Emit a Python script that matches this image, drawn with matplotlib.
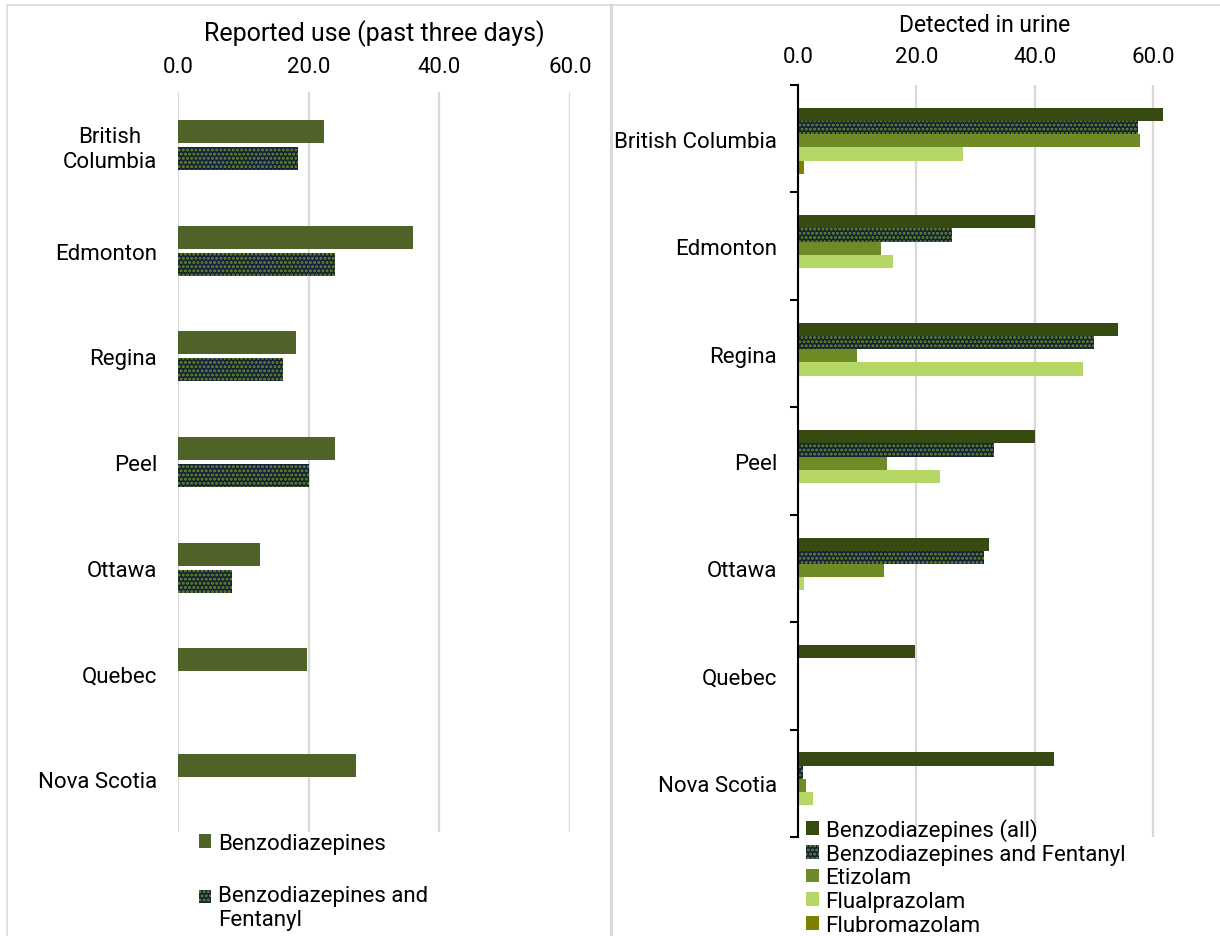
import numpy as np
import matplotlib.pyplot as plt
from matplotlib.patches import Rectangle

plt.rcParams['font.family'] = ['Roboto', 'DejaVu Sans']
plt.rcParams['font.size'] = 16
plt.rcParams['hatch.linewidth'] = 1.4

regions = ["British Columbia", "Edmonton", "Regina", "Peel", "Ottawa", "Quebec", "Nova Scotia"]
left_labels = ["British\nColumbia", "Edmonton", "Regina", "Peel", "Ottawa", "Quebec", "Nova Scotia"]

# reported use, past three days (%)
reported_benzo = [22.3, 35.9, 18.0, 24.0, 12.5, 19.7, 27.3]
reported_benzo_fent = [18.3, 24.1, 16.1, 20.1, 8.3, np.nan, np.nan]

# detected in urine (%)
urine_series = ["Benzodiazepines (all)", "Benzodiazepines and Fentanyl", "Etizolam",
                "Flualprazolam", "Flubromazolam"]
urine_all = [61.7, 40.0, 54.0, 40.0, 32.3, 19.8, 43.3]
urine_benzo_fent = [57.5, 26.0, 50.0, 33.1, 31.4, np.nan, 0.9]
urine_etizolam = [57.8, 14.0, 10.0, 15.0, 14.6, np.nan, 1.3]
urine_flualprazolam = [27.9, 16.0, 48.1, 24.0, 1.0, np.nan, 2.5]
urine_flubromazolam = [1.0, np.nan, np.nan, np.nan, np.nan, np.nan, np.nan]

grid_col = "#D9D9D9"
navy = "#13223A"
dot_green = "#6B8E23"

fig = plt.figure(figsize=(12.2, 9.37), dpi=100)

# panel frames
fig.add_artist(Rectangle((7 / 1220, -0.01), 604 / 1220, 1 - 6 / 937 + 0.01, transform=fig.transFigure,
                         fill=False, edgecolor=grid_col, lw=1.2))
fig.add_artist(Rectangle((611 / 1220, -0.01), 1, 1 - 6 / 937 + 0.01, transform=fig.transFigure,
                         fill=False, edgecolor=grid_col, lw=1.2))
fig.add_artist(plt.Line2D([611 / 1220, 611 / 1220], [0, 1 - 6 / 937], transform=fig.transFigure,
                          color=grid_col, lw=2.2))

# ---- left: reported use ----
ax1 = fig.add_axes([178 / 1220, 1 - 833 / 937, 392 / 1220, 740 / 937])
y = np.arange(len(regions))
h = 0.218
off = 0.128
ax1.barh(y - off, reported_benzo, height=h, color="#4F6228", label="Benzodiazepines")
ax1.barh(y + off, reported_benzo_fent, height=h, color=navy, edgecolor=dot_green, lw=0,
         hatch="....", label="Benzodiazepines and\nFentanyl")
ax1.set_xlim(0, 60)
ax1.set_ylim(len(regions) - 0.5, -0.5)
ax1.set_xticks([0, 20, 40, 60])
ax1.xaxis.set_major_formatter(lambda v, p: f"{v:.1f}")
ax1.xaxis.tick_top()
ax1.set_yticks(y)
ax1.set_yticklabels(left_labels, multialignment="center")
ax1.tick_params(axis="both", length=0)
ax1.tick_params(axis="x", pad=11)
ax1.tick_params(axis="y", pad=15)
for s in ax1.spines.values():
    s.set_visible(False)
ax1.grid(axis="x", color=grid_col, lw=1.6)
ax1.set_axisbelow(True)
ax1.set_xlabel("Reported use (past three days)", fontsize=18, labelpad=11)
ax1.xaxis.set_label_position("top")
leg1 = ax1.legend(loc="upper left", bbox_to_anchor=(199 / 1220, 1 - 834 / 937),
                  bbox_transform=fig.transFigure, frameon=False, handlelength=0.55, handleheight=0.55,
                  handletextpad=0.3, labelspacing=1.4, borderpad=0, borderaxespad=0)
# keep the swatch of the two-line entry level with its first line
sw = leg1.legend_handles[1]
sw.set_y(sw.get_y() + 8.3)

# ---- right: detected in urine ----
ax2 = fig.add_axes([798 / 1220, 1 - 838 / 937, 372.8 / 1220, 752 / 937])
urine_values = [urine_all, urine_benzo_fent, urine_etizolam, urine_flualprazolam, urine_flubromazolam]
urine_colors = ["#374A12", navy, "#6E8B26", "#B4D665", "#808000"]
bh = 0.123
for i, (vals, name, col) in enumerate(zip(urine_values, urine_series, urine_colors)):
    pos = y + (i - 2) * bh + 0.02
    if i == 1:
        ax2.barh(pos, vals, height=bh, color=col, edgecolor=dot_green, lw=0, hatch="....", label=name)
    else:
        ax2.barh(pos, vals, height=bh, color=col, label=name)
ax2.set_xlim(0, 63)
ax2.set_ylim(len(regions) - 0.5, -0.5)
ax2.set_xticks([0, 20, 40, 60])
ax2.xaxis.set_major_formatter(lambda v, p: f"{v:.1f}")
ax2.xaxis.tick_top()
ax2.set_yticks(y)
ax2.set_yticklabels(regions)
ax2.set_yticks(np.arange(len(regions) + 1) - 0.5, minor=True)
ax2.tick_params(axis="x", length=0, pad=13)
ax2.tick_params(axis="y", which="major", length=0, pad=15)
ax2.tick_params(axis="y", which="minor", length=6, width=1.5, direction="out", color="black")
for k in ["top", "right", "bottom"]:
    ax2.spines[k].set_visible(False)
ax2.spines["left"].set_linewidth(1.5)
ax2.grid(axis="x", color=grid_col, lw=1.6)
ax2.set_axisbelow(True)
ax2.set_xlabel("Detected in urine", fontsize=16.5, labelpad=11)
ax2.xaxis.set_label_position("top")
ax2.legend(loc="upper left", bbox_to_anchor=(806 / 1220, 1 - 819 / 937),
           bbox_transform=fig.transFigure, frameon=False, handlelength=0.58, handleheight=0.58,
           handletextpad=0.3, labelspacing=0.12, borderpad=0, borderaxespad=0)

fig.savefig("out.png", dpi=100, facecolor="white")
